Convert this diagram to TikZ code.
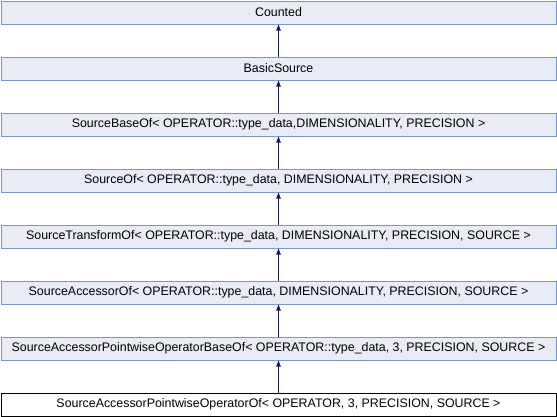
\documentclass[tikz,border=0pt]{standalone}
\usepackage{fontspec}
\setmainfont{Liberation Sans}
\usetikzlibrary{arrows.meta}
\definecolor{boxfill}{HTML}{E8ECF4}
\definecolor{boxline}{HTML}{7C95C6}
\definecolor{edgeblue}{HTML}{191970}
\begin{document}
\begin{tikzpicture}[x=1pt,y=1pt,
  cls/.style={draw=boxline,fill=boxfill,line width=1pt,minimum width=555pt,minimum height=23pt,inner sep=0pt,anchor=north,font=\fontsize{12.4}{14}\selectfont},
  cur/.style={cls,draw=black,fill=white},
  inh/.style={draw=edgeblue,line width=0.9pt,-{Triangle[width=4.5pt,length=6pt]}}]
\useasboundingbox (0,0) rectangle (557,-416);
\node[cls] (a) at (278.5,-0.5) {Counted};
\node[cls] (b) at (278.5,-56.5) {BasicSource};
\node[cls] (c) at (278.5,-112.5) {SourceBaseOf< OPERATOR::type\_data,DIMENSIONALITY, PRECISION >};
\node[cls] (d) at (278.5,-168.5) {SourceOf< OPERATOR::type\_data, DIMENSIONALITY, PRECISION >};
\node[cls] (e) at (278.5,-224.5) {SourceTransformOf< OPERATOR::type\_data, DIMENSIONALITY, PRECISION, SOURCE >};
\node[cls] (f) at (278.5,-280.5) {SourceAccessorOf< OPERATOR::type\_data, DIMENSIONALITY, PRECISION, SOURCE >};
\node[cls] (g) at (278.5,-336.5) {SourceAccessorPointwiseOperatorBaseOf< OPERATOR::type\_data, 3, PRECISION, SOURCE >};
\node[cur] (h) at (278.5,-392.5) {SourceAccessorPointwiseOperatorOf< OPERATOR, 3, PRECISION, SOURCE >};
\draw[inh] (b) -- (a);
\draw[inh] (c) -- (b);
\draw[inh] (d) -- (c);
\draw[inh] (e) -- (d);
\draw[inh] (f) -- (e);
\draw[inh] (g) -- (f);
\draw[inh] (h) -- (g);
\end{tikzpicture}
\end{document}
